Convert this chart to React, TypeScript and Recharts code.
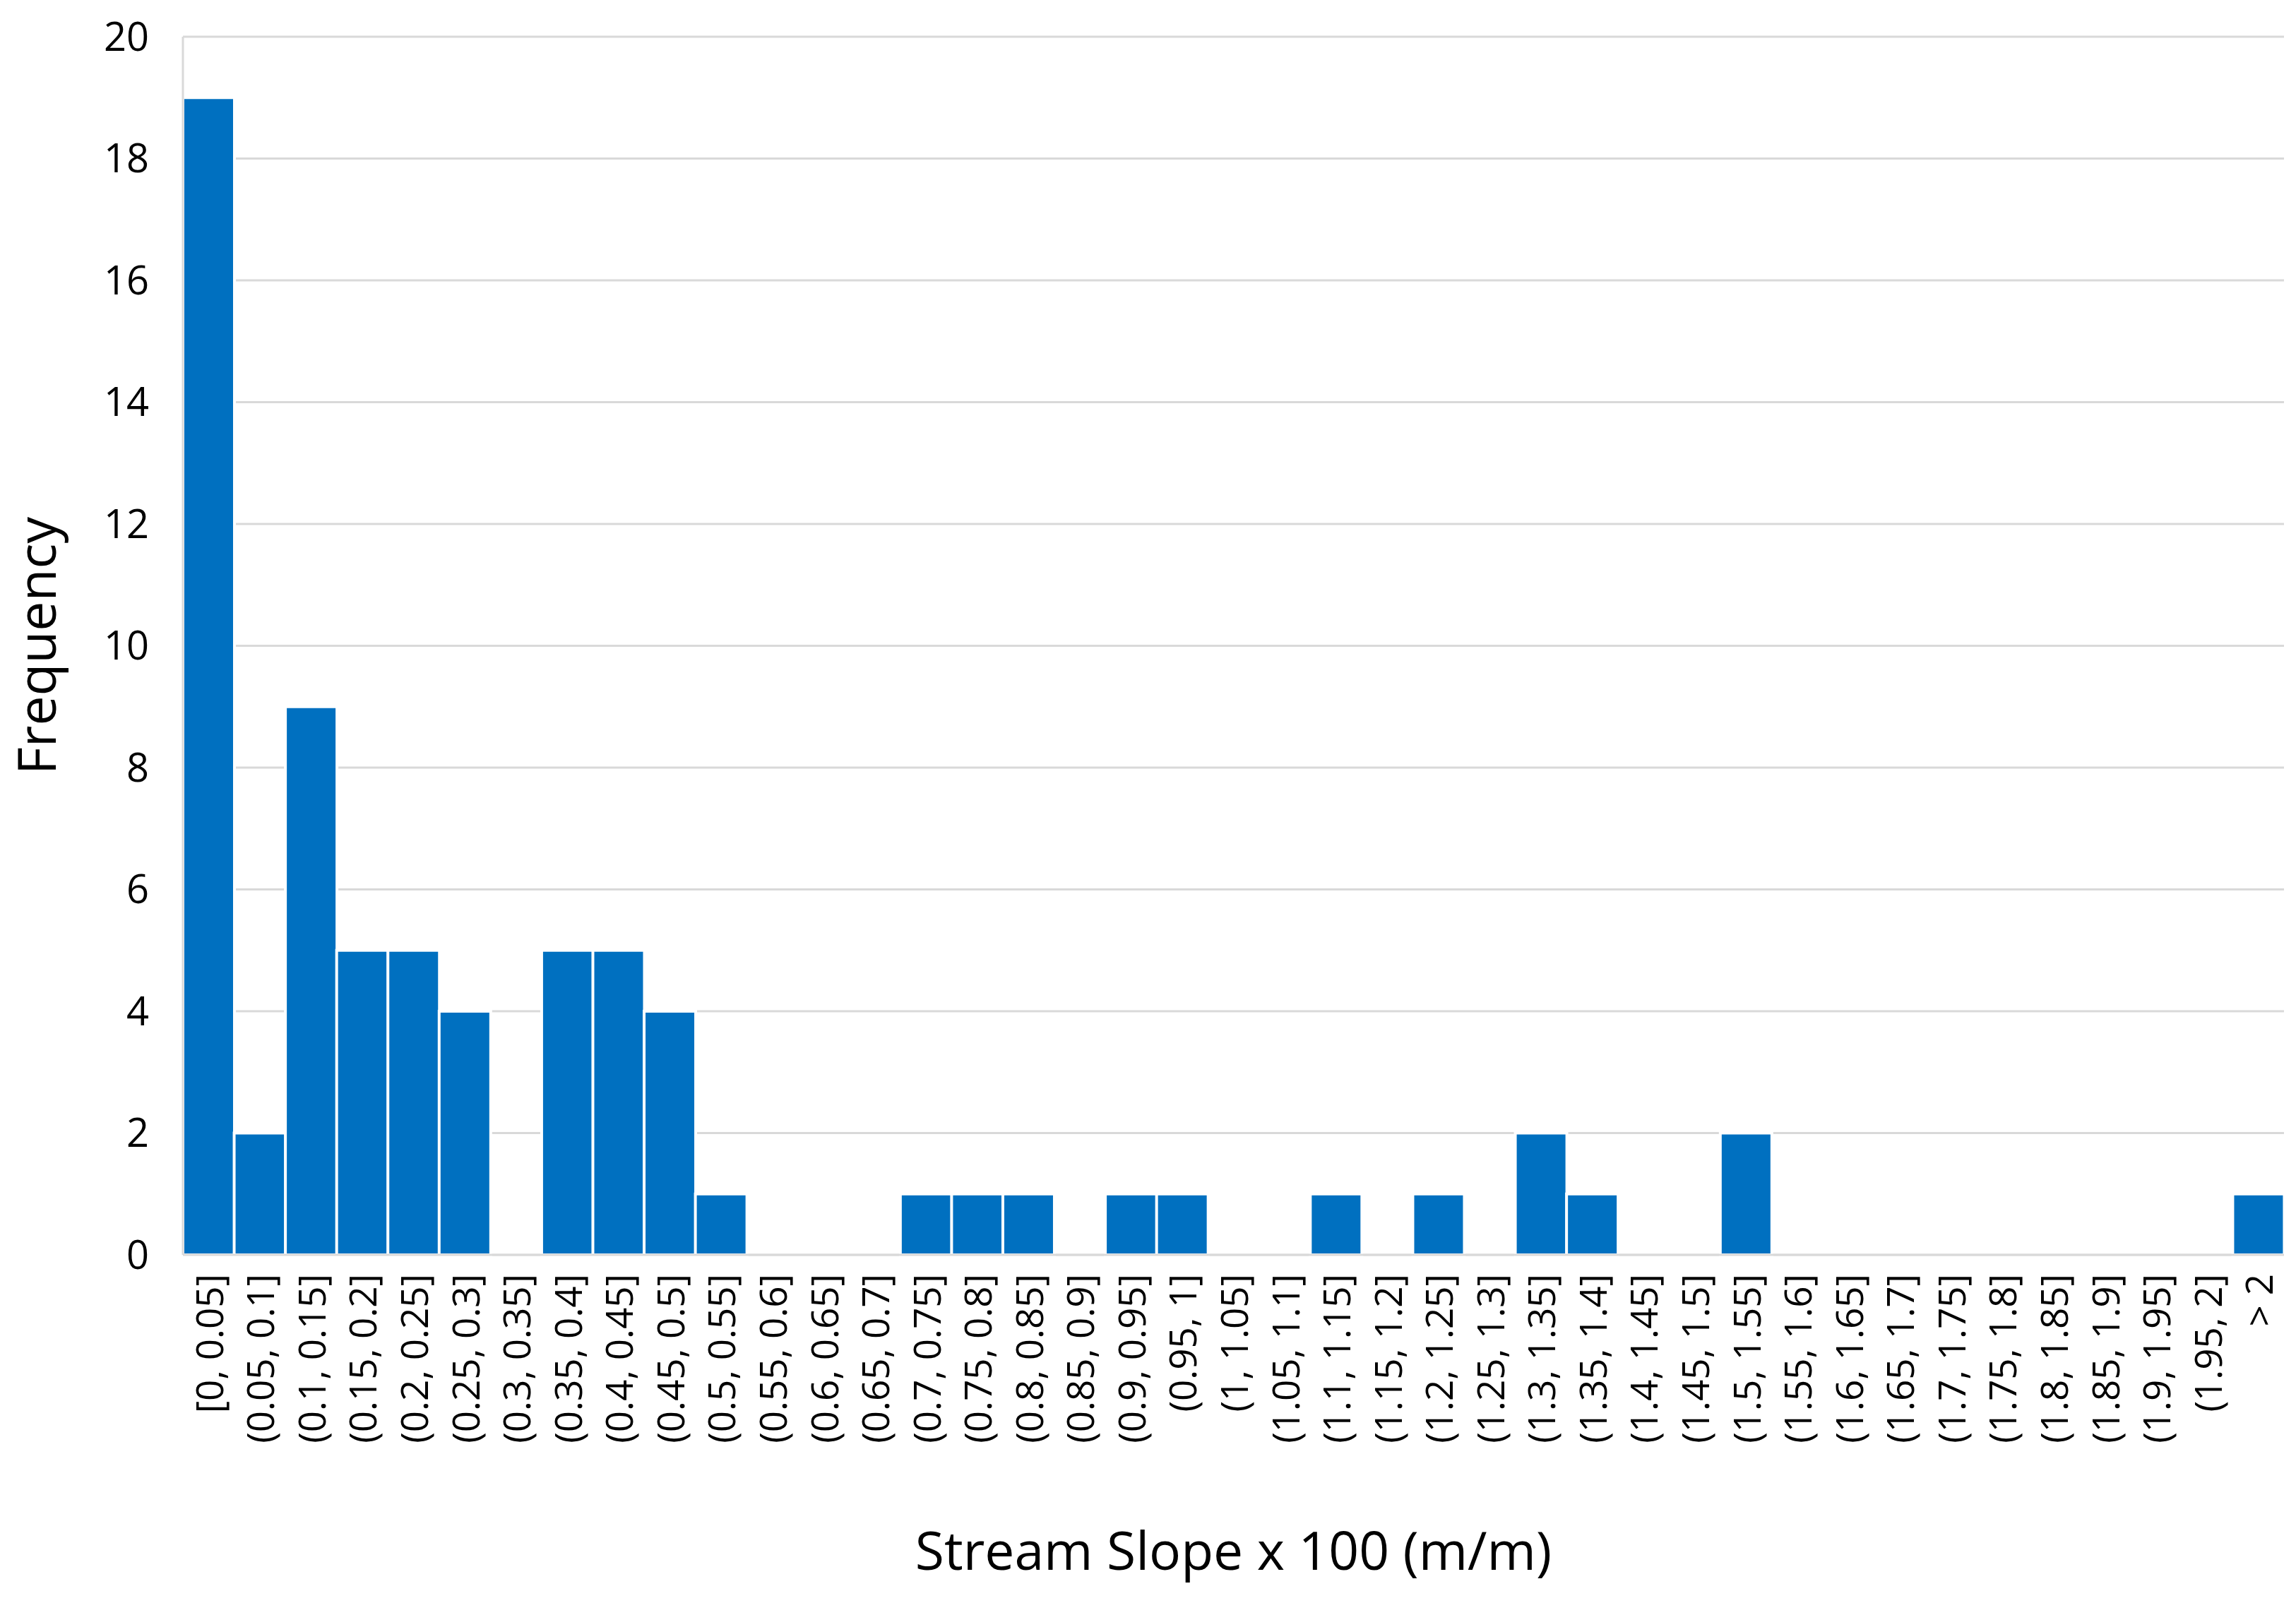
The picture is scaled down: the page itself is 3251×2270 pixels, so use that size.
import { Bar, BarChart, CartesianGrid, Label, XAxis, YAxis } from "recharts";

// histogram bins (stream slope x 100, m/m)
const binLabels = [
  "[0, 0.05]", "(0.05, 0.1]", "(0.1, 0.15]", "(0.15, 0.2]", "(0.2, 0.25]",
  "(0.25, 0.3]", "(0.3, 0.35]", "(0.35, 0.4]", "(0.4, 0.45]", "(0.45, 0.5]",
  "(0.5, 0.55]", "(0.55, 0.6]", "(0.6, 0.65]", "(0.65, 0.7]", "(0.7, 0.75]",
  "(0.75, 0.8]", "(0.8, 0.85]", "(0.85, 0.9]", "(0.9, 0.95]", "(0.95, 1]",
  "(1, 1.05]", "(1.05, 1.1]", "(1.1, 1.15]", "(1.15, 1.2]", "(1.2, 1.25]",
  "(1.25, 1.3]", "(1.3, 1.35]", "(1.35, 1.4]", "(1.4, 1.45]", "(1.45, 1.5]",
  "(1.5, 1.55]", "(1.55, 1.6]", "(1.6, 1.65]", "(1.65, 1.7]", "(1.7, 1.75]",
  "(1.75, 1.8]", "(1.8, 1.85]", "(1.85, 1.9]", "(1.9, 1.95]", "(1.95, 2]",
  "> 2",
];

const frequency = [
  19, 2, 9, 5, 5, 4, 0, 5, 5, 4,
  1, 0, 0, 0, 1, 1, 1, 0, 1, 1,
  0, 0, 1, 0, 1, 0, 2, 1, 0, 0,
  2, 0, 0, 0, 0, 0, 0, 0, 0, 0,
  1,
];

const yTicks = [0, 2, 4, 6, 8, 10, 12, 14, 16, 18, 20];

const xTitle = "Stream Slope x 100 (m/m)";
const yTitle = "Frequency";

const data = binLabels.map((bin, i) => ({ bin, count: frequency[i] }));

const W = 3251;
const H = 2270;
const FONT = '"Open Sans", "Noto Sans", sans-serif';
const INK = "#000000";
const GRID = "#d9d9d9";
const BLUE = "#0070c0";

function BinTick({ x, y, payload }: any) {
  return (
    <text
      x={x}
      y={y}
      transform={`rotate(-90 ${x} ${y})`}
      textAnchor="end"
      dominantBaseline="central"
      fontFamily={FONT}
      fontSize={53}
      fill={INK}
    >
      {payload.value}
    </text>
  );
}

function YTitle(props: any) {
  const vb = props.viewBox ?? { x: 0, y: 52, width: 259, height: 1725 };
  const cx = vb.x + 50;
  const cy = vb.y + vb.height / 2;
  return (
    <text
      x={cx}
      y={cy}
      transform={`rotate(-90 ${cx} ${cy})`}
      textAnchor="middle"
      dominantBaseline="central"
      fontFamily={FONT}
      fontSize={75}
      fill={INK}
    >
      {yTitle}
    </text>
  );
}

function XTitle(props: any) {
  const vb = props.viewBox ?? { x: 259, y: 1777, width: 2975, height: 493 };
  return (
    <text
      x={vb.x + vb.width / 2}
      y={vb.y + vb.height - 47}
      textAnchor="middle"
      fontFamily={FONT}
      fontSize={75}
      fill={INK}
    >
      {xTitle}
    </text>
  );
}

export default function App() {
  return (
    <div
      style={{
        position: "absolute",
        left: 0,
        top: 0,
        width: W,
        height: H,
        background: "#ffffff",
      }}
    >
      <BarChart
        width={W}
        height={H}
        data={data}
        margin={{ top: 52, right: 17, left: 0, bottom: 0 }}
        barCategoryGap={0}
        barGap={0}
      >
        <CartesianGrid vertical={false} stroke={GRID} strokeWidth={3} />
        <XAxis
          dataKey="bin"
          interval={0}
          height={493}
          tickLine={false}
          tickSize={0}
          tickMargin={27}
          axisLine={{ stroke: GRID, strokeWidth: 3 }}
          tick={<BinTick />}
        >
          <Label content={<XTitle />} />
        </XAxis>
        <YAxis
          domain={[0, 20]}
          ticks={yTicks}
          width={259}
          tickLine={false}
          tickSize={0}
          tickMargin={48}
          axisLine={{ stroke: GRID, strokeWidth: 3 }}
          tick={{ fill: INK, fontSize: 56, fontFamily: FONT }}
        >
          <Label content={<YTitle />} />
        </YAxis>
        <Bar
          dataKey="count"
          fill={BLUE}
          stroke="#ffffff"
          strokeWidth={4}
          isAnimationActive={false}
        />
      </BarChart>
    </div>
  );
}
